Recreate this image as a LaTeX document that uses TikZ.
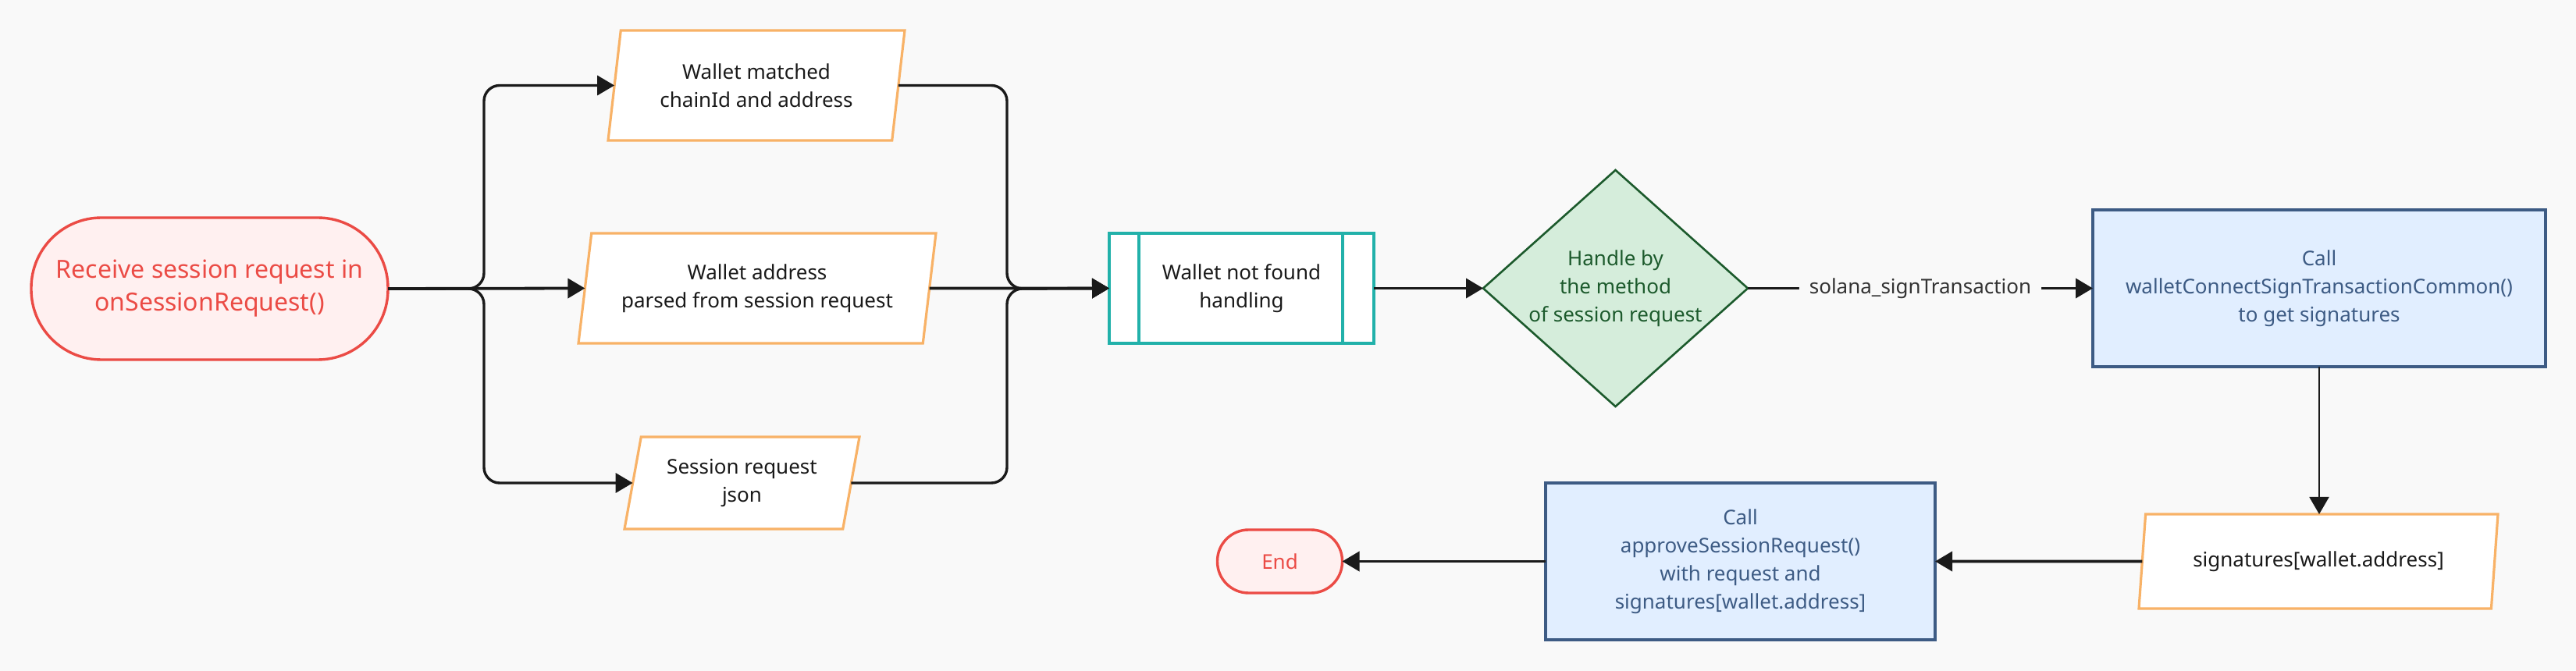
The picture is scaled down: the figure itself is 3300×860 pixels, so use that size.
\documentclass[tikz,border=0pt]{standalone}
\usepackage{fontspec}
\setmainfont{Noto Sans}
\usetikzlibrary{shapes.geometric,arrows.meta}
\definecolor{bg}{HTML}{F9F9F9}
\definecolor{redc}{HTML}{EB4B45}
\definecolor{redf}{HTML}{FFF0F0}
\definecolor{orc}{HTML}{F8B267}
\definecolor{tealc}{HTML}{22B1AA}
\definecolor{grc}{HTML}{1C5A2C}
\definecolor{grf}{HTML}{D5EDDB}
\definecolor{blc}{HTML}{3D5B84}
\definecolor{blf}{HTML}{E1EEFF}
\definecolor{ink}{HTML}{1A1A1A}
\definecolor{lbl}{HTML}{333333}
\begin{document}
\begin{tikzpicture}[x=0.5pt,y=-0.5pt,
  base/.style={align=center, font=\fontsize{13}{18}\selectfont, inner sep=0pt, outer sep=0pt},
  term/.style={base, rectangle, draw=redc, fill=redf, text=redc, line width=1.7pt},
  para/.style={base, trapezium, trapezium stretches body, draw=orc, fill=white, line width=1.6pt, text=ink},
  procbox/.style={base, rectangle, draw=tealc, fill=white, line width=1.7pt, text=ink},
  decide/.style={base, diamond, shape aspect=1.12, draw=grc, fill=grf, line width=1.3pt, text=grc},
  callbox/.style={base, rectangle, draw=blc, fill=blf, line width=1.7pt, text=blc},
  conn/.style={draw=ink, line width=1.9pt, rounded corners=10pt, -{Triangle[length=11pt,width=12.5pt]}},
  branch/.style={draw=ink, line width=1.7pt, rounded corners=10pt, -{Triangle[length=11pt,width=12.5pt]}},
  thin/.style={draw=ink, line width=1pt, -{Triangle[length=11pt,width=12.5pt]}},
  elabel/.style={base, fill=bg, text=lbl, inner xsep=6.5pt, inner ysep=3pt}
]
\path[fill=bg] (0,0) rectangle (3300,860);

\node[term, minimum width=228.5pt, minimum height=91pt, rounded corners=45pt,
  font=\fontsize{16}{21}\selectfont] (start) at (268.5,370)
  {Receive session request in\\onSessionRequest()};

\node[para, trapezium left angle=73.8, trapezium right angle=106.2,
  minimum width=190pt, minimum height=70.5pt] (p1) at (969,109.5)
  {Wallet matched\\chainId and address};
\node[para, trapezium left angle=74.9, trapezium right angle=105.1,
  minimum width=229pt, minimum height=70.5pt] (p2) at (970,369.5)
  {Wallet address\\parsed from session request};
\node[para, trapezium left angle=70.9, trapezium right angle=109.1,
  minimum width=150.5pt, minimum height=59pt] (p3) at (950.5,619)
  {Session request\\json};

\node[procbox, minimum width=169.5pt, minimum height=70.5pt] (wnf) at (1590.5,369.5)
  {Wallet not found\\handling};
\draw[tealc, line width=1.7pt] ([xshift=19pt]wnf.north west) -- ([xshift=19pt]wnf.south west);
\draw[tealc, line width=1.7pt] ([xshift=-20pt]wnf.north east) -- ([xshift=-20pt]wnf.south east);

\node[decide, minimum width=169.5pt, minimum height=151.5pt] (dia) at (2069.5,369.5)
  {Handle by\\the method\\of session request};

\node[callbox, minimum width=290pt, minimum height=100.5pt] (call1) at (2971,369.5)
  {Call\\walletConnectSignTransactionCommon()\\to get signatures};

\node[para, trapezium left angle=71.7, trapezium right angle=108.3,
  minimum width=230pt, minimum height=60.5pt] (p4) at (2970,719.5)
  {signatures[wallet.address]};

\node[callbox, minimum width=249.5pt, minimum height=100.5pt] (appr) at (2229.5,719.5)
  {Call\\approveSessionRequest()\\with request and\\signatures[wallet.address]};

\node[term, minimum width=80pt, minimum height=40.5pt, rounded corners=20pt] (end) at (1639.5,719.5) {End};

% branches out of start
\coordinate (bx) at (620,370);
\draw[branch] (start.east) -- (bx) |- (p1.west);
\draw[branch] (start.east) -- (bx) |- (p3.west);
\draw[conn] (start.east) -- (p2.west);

% merge into wallet not found
\coordinate (mx) at (1290,370);
\draw[branch] (p1.east) -| (mx) -- (wnf.west);
\draw[branch] (p3.east) -| (mx) -- (wnf.west);
\draw[conn] (p2.east) -- (wnf.west);

\draw[conn] (wnf.east) -- (dia.west);
\draw[conn] (dia.east) -- node[elabel] (lab) {solana\_signTransaction} (call1.west);
\draw[thin] (call1.south) -- (call1.south |- p4.north);
\draw[conn] (p4.west) -- (appr.east);
\draw[conn] (appr.west) -- (end.east);
\end{tikzpicture}
\end{document}
